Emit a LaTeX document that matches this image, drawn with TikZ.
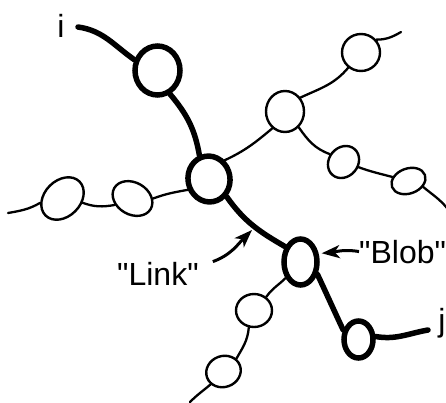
\documentclass[tikz,border=0pt]{standalone}
\usepackage{fontspec}
\newfontfamily\lblfont{Liberation Sans}
\usetikzlibrary{shapes.geometric,arrows.meta}
\begin{document}
\begin{tikzpicture}[x=1pt,y=-1pt,
  blob/.style={draw,ellipse,line width=5.5pt,inner sep=0pt},
  bead/.style={draw,ellipse,line width=2.4pt,inner sep=0pt},
  backbone/.style={line width=5.5pt,line cap=round},
  strand/.style={line width=2.3pt,line cap=round},
  txt/.style={font={\lblfont\fontsize{32}{36}\selectfont},inner sep=0pt},
  pointer/.style={line width=3pt,-{Stealth[length=18pt,width=13pt,inset=5pt]}}]
\useasboundingbox (0,0) rectangle (446,402);
\node [blob,minimum width=45,minimum height=49] (b1) at (157.5,70.5) {};
\node [blob,minimum width=42,minimum height=46,rotate=10] (b2) at (209,179) {};
\node [blob,minimum width=33,minimum height=46] (b3) at (300.5,262) {};
\node [blob,minimum width=29,minimum height=37] (b4) at (358.5,339.5) {};
\node [bead,minimum width=38,minimum height=41] (up1) at (285,111.5) {};
\node [bead,minimum width=38,minimum height=37] (up2) at (361,52.5) {};
\node [bead,minimum width=34,minimum height=29,rotate=50] (rt1) at (343.5,162) {};
\node [bead,minimum width=35,minimum height=25,rotate=20] (rt2) at (408.5,181) {};
\node [bead,minimum width=42,minimum height=32,rotate=-30] (lf1) at (132.5,198.5) {};
\node [bead,minimum width=48,minimum height=36,rotate=45] (lf2) at (62.5,198.5) {};
\node [bead,minimum width=36,minimum height=33] (lo1) at (254,310.5) {};
\node [bead,minimum width=35,minimum height=31,rotate=20] (lo2) at (223.5,371.5) {};
\node [txt,anchor=base] (i) at (61,37) {i};
\node [txt,anchor=base] (j) at (442,331) {j};
\node [txt,anchor=base west] (linktxt) at (117,285) {"Link"};
\node [txt,anchor=base west] (blobtxt) at (359,263) {"Blob"};
\coordinate (iend) at (78,27);
\coordinate (jend) at (428,330);
\coordinate (upend) at (401,32);
\coordinate (rtend) at (447,208);
\coordinate (lfend) at (8,213);
\coordinate (loend) at (190,402);
\coordinate (linktip) at (252,230);
\draw [backbone] (iend) to [out=-8,in=145] (b1.155);
\draw [backbone] (b1.-62) to [out=-50,in=100] (b2.102);
\draw [backbone] (b2.-55) to [out=-55,in=150] (b3.135);
\draw [backbone] (b3.-36) to [out=-65,in=115] (b4.148);
\draw [backbone] (b4.10) to [out=-10,in=190] (jend);
\draw [strand] (b2.40) to [out=25,in=220] (up1.233);
\draw [strand] (up1.42) to [out=25,in=230] (up2.230);
\draw [strand] (up2.40) to [out=0,in=210] (upend);
\draw [strand] (up1.-49) to [out=-55,in=160] (rt1.100);
\draw [strand] (rt1.-69) to [out=-20,in=165] (rt2.146);
\draw [strand] (rt2.-42) to [out=-40,in=130] (rtend);
\draw [strand] (b2.197) to [out=190,in=20] (lf1.30);
\draw [strand] (lf1.230) to [out=190,in=-20] (lf2.-57);
\draw [strand] (lf2.146) to [out=210,in=10] (lfend);
\draw [strand] (b3.227) to [out=225,in=55] (lo1.48);
\draw [strand] (lo1.253) to [out=-95,in=60] (lo2.25);
\draw [strand] (lo2.205) to [out=220,in=45] (loend);
\draw [pointer] ([xshift=14pt]linktxt.north east) to [out=20,in=225] (linktip);
\draw [pointer,shorten >=3pt] (blobtxt.west) to [out=170,in=5] (b3.25);
\end{tikzpicture}
\end{document}
